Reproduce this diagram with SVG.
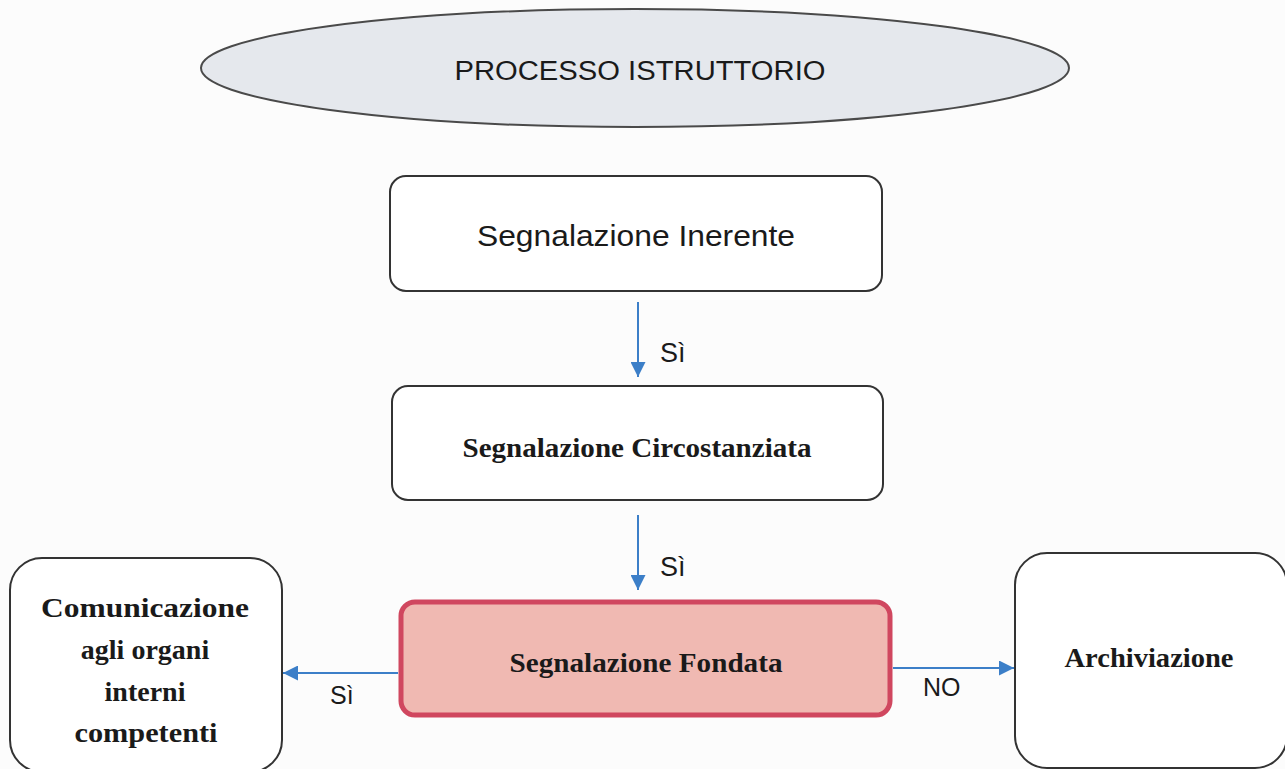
<svg xmlns="http://www.w3.org/2000/svg" width="1285" height="769" viewBox="0 0 1285 769">
<defs>
<style>
.box{fill:#ffffff;stroke:#333333;stroke-width:2}
.sans{font-family:"Liberation Sans",Arial,sans-serif;fill:#1a1a1a}
.serif{font-family:"Liberation Serif","Times New Roman",serif;font-weight:bold;fill:#1a1a1a}
.conn{stroke:#3c7fc8;stroke-width:2;fill:none}
</style>
<marker id="ah" viewBox="0 0 10 10" refX="10" refY="5" markerWidth="15" markerHeight="15" markerUnits="userSpaceOnUse" orient="auto">
<path d="M0,0 L10,5 L0,10 Z" fill="#3c7fc8"/>
</marker>
</defs>
<rect width="1285" height="769" fill="#fcfcfc"/>
<g id="title">
<ellipse cx="635" cy="68" rx="434" ry="59" fill="#e5e8ed" stroke="#4a4a4a" stroke-width="2"/>
<text class="sans" x="640" y="80" font-size="27" text-anchor="middle" textLength="371" lengthAdjust="spacingAndGlyphs">PROCESSO ISTRUTTORIO</text>
</g>
<g id="inerente">
<rect class="box" x="390" y="176" width="492" height="115" rx="16"/>
<text class="sans" x="636" y="246" font-size="29" text-anchor="middle" textLength="318" lengthAdjust="spacingAndGlyphs">Segnalazione Inerente</text>
</g>
<g id="circostanziata">
<rect class="box" x="392" y="386" width="491" height="114" rx="16"/>
<text class="serif" x="637" y="457" font-size="28" text-anchor="middle" textLength="349" lengthAdjust="spacingAndGlyphs">Segnalazione Circostanziata</text>
</g>
<g id="fondata">
<rect x="401" y="602" width="489" height="113" rx="14" fill="#f0b9b2" stroke="#d0475f" stroke-width="5"/>
<text class="serif" x="646" y="672" font-size="28" text-anchor="middle" textLength="273" lengthAdjust="spacingAndGlyphs">Segnalazione Fondata</text>
</g>
<g id="comunicazione">
<rect class="box" x="10" y="558" width="272" height="214" rx="32"/>
<text class="serif" x="145" y="617" font-size="28" text-anchor="middle" textLength="208" lengthAdjust="spacingAndGlyphs">Comunicazione</text>
<text class="serif" x="145" y="659" font-size="28" text-anchor="middle">agli organi</text>
<text class="serif" x="145" y="701" font-size="28" text-anchor="middle">interni</text>
<text class="serif" x="146" y="742" font-size="28" text-anchor="middle" textLength="143" lengthAdjust="spacingAndGlyphs">competenti</text>
</g>
<g id="archiviazione">
<rect class="box" x="1015" y="553" width="272" height="215" rx="32"/>
<text class="serif" x="1149" y="667" font-size="28" text-anchor="middle" textLength="169" lengthAdjust="spacingAndGlyphs">Archiviazione</text>
</g>
<g id="connectors">
<line class="conn" x1="638" y1="302" x2="638" y2="377" marker-end="url(#ah)"/>
<text class="sans" x="660" y="362" font-size="27">Sì</text>
<line class="conn" x1="638" y1="515" x2="638" y2="590" marker-end="url(#ah)"/>
<text class="sans" x="660" y="576" font-size="27">Sì</text>
<line class="conn" x1="398" y1="673" x2="283" y2="673" marker-end="url(#ah)"/>
<text class="sans" x="330" y="704" font-size="25">Sì</text>
<line class="conn" x1="893" y1="668" x2="1014" y2="668" marker-end="url(#ah)"/>
<text class="sans" x="923" y="696" font-size="25">NO</text>
</g>
</svg>
